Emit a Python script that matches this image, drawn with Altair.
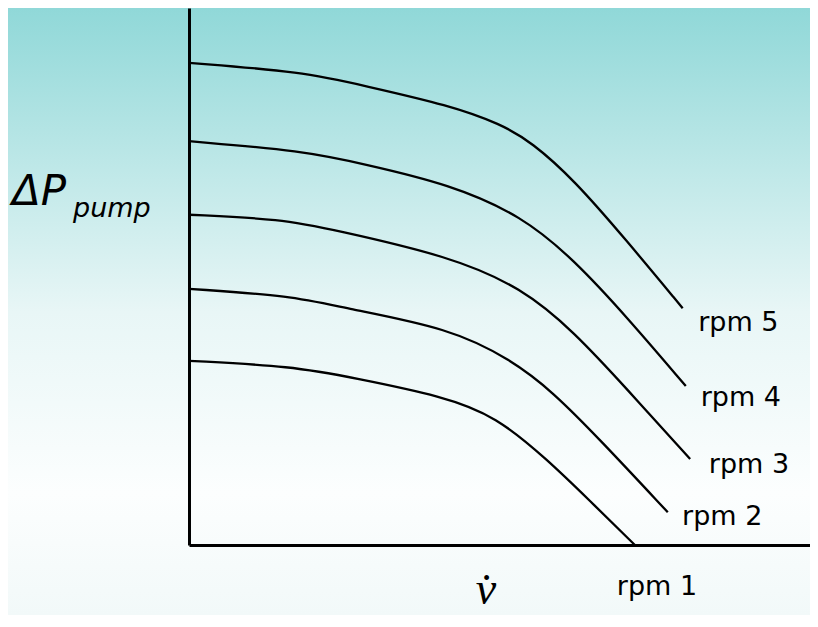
import altair as alt
import pandas as pd

# ---- data (x = flow, y = pump head, both 0-100) ----
rpm5_x = [0, 18.4, 28.3, 41.9, 50.2, 55.2, 62.0, 70.4, 79.5]
rpm5_y = [89.8, 88.1, 85.5, 81.9, 78.4, 75.0, 68.0, 56.8, 44.1]

rpm4_x = [0, 18.4, 28.3, 41.9, 53.6, 62.0, 70.4, 80.0]
rpm4_y = [75.2, 73.4, 70.9, 67.2, 61.3, 53.1, 42.6, 29.6]

rpm3_x = [0, 15.0, 23.3, 41.9, 53.6, 62.0, 70.4, 80.7]
rpm3_y = [61.5, 60.7, 58.7, 53.8, 47.9, 39.7, 29.2, 16.0]

rpm2_x = [0, 16.6, 25.0, 41.9, 51.9, 58.6, 66.2, 77.1]
rpm2_y = [47.7, 46.4, 44.1, 40.4, 34.5, 28.5, 19.6, 6.1]

rpm1_x = [0, 16.6, 26.7, 40.9, 49.4, 57.8, 64.4, 71.8]
rpm1_y = [34.3, 33.3, 31.1, 27.7, 24.0, 15.8, 8.4, 0.0]

label_text = ["rpm 5", "rpm 4", "rpm 3", "rpm 2", "rpm 1"]
label_x = [82.0, 82.4, 83.7, 79.4, 68.9]
label_y = [39.9, 25.9, 13.4, 3.7, -9.3]

# ---- build tables ----
rows = []
for name, xs, ys in [("rpm 5", rpm5_x, rpm5_y), ("rpm 4", rpm4_x, rpm4_y),
                     ("rpm 3", rpm3_x, rpm3_y), ("rpm 2", rpm2_x, rpm2_y),
                     ("rpm 1", rpm1_x, rpm1_y)]:
    for i, (xv, yv) in enumerate(zip(xs, ys)):
        rows.append({"series": name, "x": xv, "y": yv, "order": i})
curves = pd.DataFrame(rows)
labels = pd.DataFrame({"text": label_text, "x": label_x, "y": label_y})

W, H = 621, 537
PAD_L, PAD_B = 181, 70

xscale = alt.Scale(domain=[0, 100], nice=False, zero=False)
yscale = alt.Scale(domain=[0, 100], nice=False, zero=False)
axis_style = dict(domain=True, domainColor="black", domainWidth=3, ticks=False,
                  labels=False, grid=False, title=None, zindex=2)

gradient = alt.LinearGradient(
    gradient="linear", x1=0, x2=0, y1=0, y2=1,
    stops=[alt.GradientStop(color="#90D8D8", offset=0),
           alt.GradientStop(color="#E8F6F6", offset=0.5),
           alt.GradientStop(color="#FCFEFE", offset=0.8),
           alt.GradientStop(color="#F2F9F9", offset=1)])

bg = alt.Chart(pd.DataFrame({"a": [0]})).mark_rect(color=gradient).encode(
    x=alt.value(-PAD_L), x2=alt.value(W), y=alt.value(0), y2=alt.value(H + PAD_B))

lines = alt.Chart(curves).mark_line(color="black", strokeWidth=2.3, interpolate="basis").encode(
    x=alt.X("x:Q", scale=xscale, axis=alt.Axis(**axis_style)),
    y=alt.Y("y:Q", scale=yscale, axis=alt.Axis(**axis_style)),
    detail="series:N",
    order="order:Q",
)

text = alt.Chart(labels).mark_text(align="left", baseline="alphabetic", font="DejaVu Sans",
                                    fontSize=27, color="black").encode(
    x=alt.X("x:Q", scale=xscale), y=alt.Y("y:Q", scale=yscale), text="text:N")

dp = alt.Chart(pd.DataFrame({"t": ["ΔP"]})).mark_text(
    align="left", baseline="alphabetic", font="DejaVu Sans", fontStyle="italic",
    fontSize=42, color="black").encode(x=alt.value(-177), y=alt.value(197), text="t:N")
pump = alt.Chart(pd.DataFrame({"t": ["pump"]})).mark_text(
    align="left", baseline="alphabetic", font="DejaVu Sans", fontStyle="italic",
    fontSize=27, color="black").encode(x=alt.value(-116), y=alt.value(209), text="t:N")
vdot = alt.Chart(pd.DataFrame({"t": ["v\u0307"]})).mark_text(
    align="center", baseline="alphabetic", font="Liberation Serif", fontStyle="italic",
    fontSize=46, color="black").encode(x=alt.value(297), y=alt.value(596), text="t:N")

chart = alt.layer(bg, lines, text, dp, pump, vdot).properties(
    width=W, height=H,
    autosize=alt.AutoSizeParams(type="none"),
    padding={"left": PAD_L, "top": 0, "right": 0, "bottom": PAD_B},
).configure_view(stroke=None).configure(background="#F2F9F9")

chart.save("out.html", embed_options={"renderer": "svg", "actions": False})
